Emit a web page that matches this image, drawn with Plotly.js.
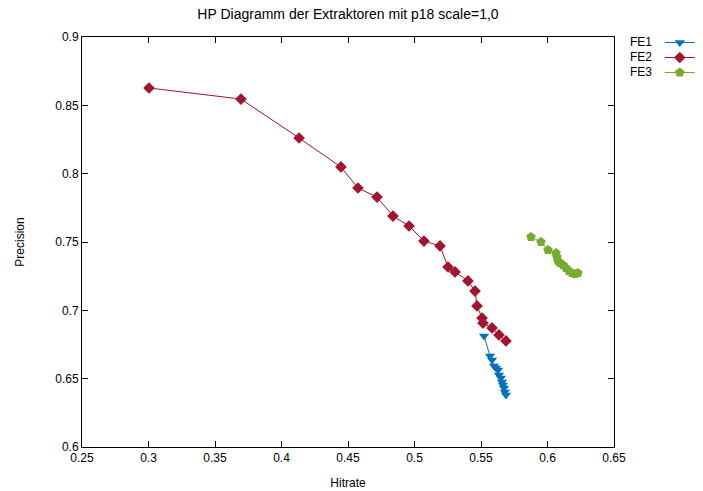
<!DOCTYPE html>
<html>
<head>
<meta charset="utf-8">
<script src="https://cdn.plot.ly/plotly-3.0.1.min.js"></script>
<style>html,body{margin:0;padding:0;background:#fff;}#chart{width:703px;height:491px;}</style>
</head>
<body>
<div id="chart"></div>
<script>
// FE1
const fe1Hitrate = [0.5523, 0.5568, 0.5583, 0.5598, 0.5613, 0.5628, 0.5635, 0.5650, 0.5658, 0.5665, 0.5673, 0.5680, 0.5688];
const fe1Precision = [0.6812, 0.6666, 0.6637, 0.6593, 0.6578, 0.6564, 0.6527, 0.6505, 0.6476, 0.6454, 0.6432, 0.6403, 0.6381];
// FE2
const fe2Hitrate = [0.3004, 0.3695, 0.4132, 0.4447, 0.4575, 0.4718, 0.4838, 0.4959, 0.5071, 0.5192, 0.5252, 0.5305, 0.5402, 0.5455, 0.5470, 0.5508, 0.5515, 0.5583, 0.5635, 0.5688];
const fe2Precision = [0.8627, 0.8546, 0.8261, 0.8049, 0.7895, 0.7829, 0.7690, 0.7617, 0.7507, 0.7471, 0.7317, 0.7281, 0.7215, 0.7141, 0.7032, 0.6944, 0.6907, 0.6871, 0.6820, 0.6776];
// FE3
const fe3Hitrate = [0.5876, 0.5951, 0.6004, 0.6064, 0.6071, 0.6079, 0.6094, 0.6117, 0.6139, 0.6162, 0.6184, 0.6207, 0.6229];
const fe3Precision = [0.7537, 0.7500, 0.7441, 0.7420, 0.7390, 0.7361, 0.7346, 0.7332, 0.7310, 0.7288, 0.7273, 0.7266, 0.7273];

const seriesNames = ["FE1", "FE2", "FE3"];
const xTicks = [0.25, 0.3, 0.35, 0.4, 0.45, 0.5, 0.55, 0.6, 0.65];
const xTickLabels = ["0.25", "0.3", "0.35", "0.4", "0.45", "0.5", "0.55", "0.6", "0.65"];
const yTicks = [0.6, 0.65, 0.7, 0.75, 0.8, 0.85, 0.9];
const yTickLabels = ["0.6", "0.65", "0.7", "0.75", "0.8", "0.85", "0.9"];

const colors = ["#0072bd", "#a2142f", "#77ac30"];
const symbols = ["triangle-down", "diamond", "pentagon"];
const markerSizes = [9, 9, 10];
const xs = [fe1Hitrate, fe2Hitrate, fe3Hitrate];
const ys = [fe1Precision, fe2Precision, fe3Precision];

const FONT = "Liberation Sans, Arial, sans-serif";
const legendIds = ["legend", "legend2", "legend3"];

// one small legend per series (samples only), labels written to the left as in gnuplot
const traces = seriesNames.map((n, i) => ({
  type: "scatter",
  mode: "lines+markers",
  name: " ",
  legend: legendIds[i],
  x: xs[i],
  y: ys[i],
  line: {color: colors[i], width: 1},
  marker: {color: colors[i], symbol: symbols[i], size: markerSizes[i], line: {width: 0}}
}));

const plotHeightPx = 491 - 37 - 44;
const rowPx = 15;
const firstRowOffsetPx = 5; // first row centre, px below the top of the plot area

const labelAnnotations = seriesNames.map((n, i) => ({
  text: n,
  xref: "paper", yref: "paper",
  x: 1.075, xanchor: "right",
  y: 1 - (firstRowOffsetPx + i * rowPx) / plotHeightPx, yanchor: "middle",
  showarrow: false,
  font: {family: FONT, size: 12, color: "#000"}
}));

const axisCommon = {
  showgrid: false,
  zeroline: false,
  showline: true,
  mirror: "allticks",
  linecolor: "#000",
  linewidth: 1,
  ticks: "inside",
  ticklen: 6,
  tickcolor: "#000",
  tickfont: {family: FONT, size: 12, color: "#000"}
};

const layout = {
  width: 703,
  height: 491,
  margin: {l: 82, r: 89, t: 37, b: 44, autoexpand: false},
  paper_bgcolor: "#fff",
  plot_bgcolor: "#fff",
  font: {family: FONT, size: 12, color: "#000"},
  title: {text: "HP Diagramm der Extraktoren mit p18 scale=1,0", x: 0.495, xanchor: "center", y: 0.972, yanchor: "middle",
          font: {family: FONT, size: 14, color: "#000"}},
  xaxis: Object.assign({}, axisCommon, {
    range: [0.25, 0.65], tickvals: xTicks, ticktext: xTickLabels,
    title: {text: "Hitrate", standoff: 14, font: {size: 12}}
  }),
  yaxis: Object.assign({}, axisCommon, {
    range: [0.6, 0.9], tickvals: yTicks, ticktext: yTickLabels,
    title: {text: "Precision", standoff: 28, font: {size: 12}}
  }),
  showlegend: true,
  annotations: labelAnnotations
};

legendIds.forEach((id, i) => {
  // legend entry centre sits ~14px below the legend's top edge
  const topPx = firstRowOffsetPx + i * rowPx - 14;
  layout[id] = {
    x: 1.086, xanchor: "left",
    y: 1 - topPx / plotHeightPx, yanchor: "top",
    bgcolor: "rgba(0,0,0,0)", font: {size: 8}, itemwidth: 30
  };
});

Plotly.newPlot("chart", traces, layout, {displayModeBar: false, staticPlot: true});
</script>
</body>
</html>
